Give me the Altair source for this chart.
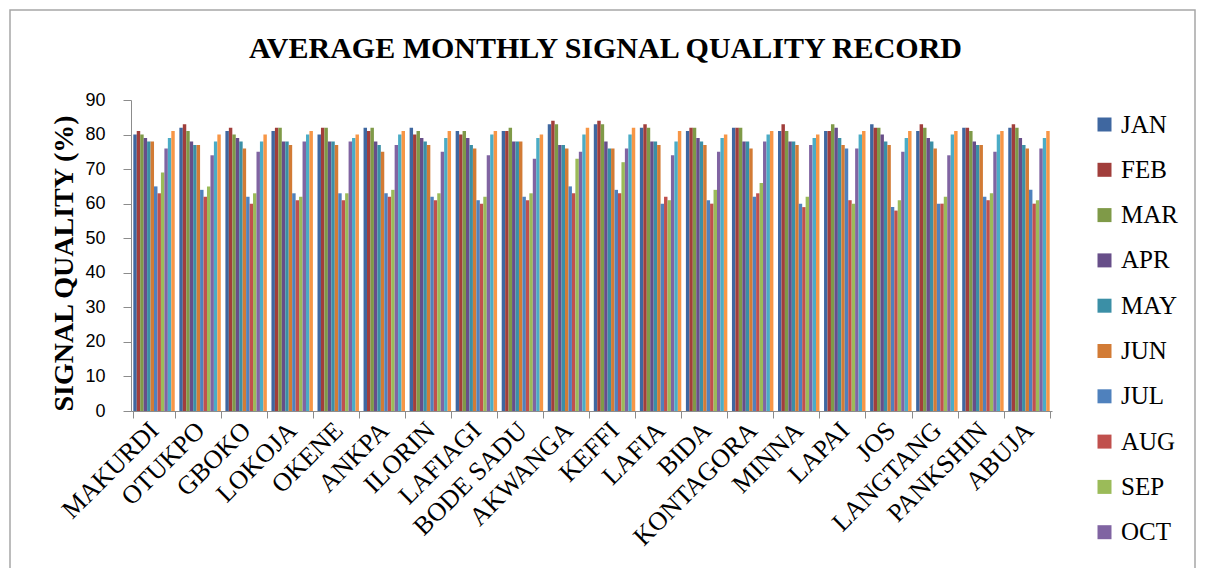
import altair as alt
import pandas as pd

cities = ["MAKURDI", "OTUKPO", "GBOKO", "LOKOJA", "OKENE", "ANKPA", "ILORIN", "LAFIAGI",
          "BODE SADU", "AKWANGA", "KEFFI", "LAFIA", "BIDA", "KONTAGORA", "MINNA", "LAPAI",
          "JOS", "LANGTANG", "PANKSHIN", "ABUJA"]
months = ["JAN", "FEB", "MAR", "APR", "MAY", "JUN", "JUL", "AUG", "SEP", "OCT", "NOV", "DEC"]

MAKURDI   = [80, 81, 80, 79, 78, 78, 65, 63, 69, 76, 79, 81]
OTUKPO    = [82, 83, 81, 78, 77, 77, 64, 62, 65, 74, 78, 80]
GBOKO     = [81, 82, 80, 79, 78, 76, 62, 60, 63, 75, 78, 80]
LOKOJA    = [81, 82, 82, 78, 78, 77, 63, 61, 62, 78, 80, 81]
OKENE     = [80, 82, 82, 78, 78, 77, 63, 61, 63, 78, 79, 80]
ANKPA     = [82, 81, 82, 78, 77, 75, 63, 62, 64, 77, 80, 81]
ILORIN    = [82, 80, 81, 79, 78, 77, 62, 61, 63, 75, 79, 81]
LAFIAGI   = [81, 80, 81, 79, 77, 76, 61, 60, 62, 74, 80, 81]
BODE_SADU = [81, 81, 82, 78, 78, 78, 62, 61, 63, 73, 79, 80]
AKWANGA   = [83, 84, 83, 77, 77, 76, 65, 63, 73, 75, 80, 82]
KEFFI     = [83, 84, 83, 78, 76, 76, 64, 63, 72, 76, 80, 82]
LAFIA     = [82, 83, 82, 78, 78, 77, 60, 62, 61, 74, 78, 81]
BIDA      = [81, 82, 82, 79, 78, 77, 61, 60, 64, 75, 79, 80]
KONTAGORA = [82, 82, 82, 78, 78, 76, 62, 63, 66, 78, 80, 81]
MINNA     = [81, 83, 81, 78, 78, 77, 60, 59, 62, 77, 79, 80]
LAPAI     = [81, 81, 83, 82, 79, 77, 76, 61, 60, 76, 80, 81]
JOS       = [83, 82, 82, 80, 78, 77, 59, 58, 61, 75, 79, 81]
LANGTANG  = [81, 83, 82, 79, 78, 76, 60, 60, 62, 74, 80, 81]
PANKSHIN  = [82, 82, 81, 78, 77, 77, 62, 61, 63, 75, 80, 81]
ABUJA     = [82, 83, 82, 79, 77, 76, 64, 60, 61, 76, 79, 81]

series = [MAKURDI, OTUKPO, GBOKO, LOKOJA, OKENE, ANKPA, ILORIN, LAFIAGI, BODE_SADU,
          AKWANGA, KEFFI, LAFIA, BIDA, KONTAGORA, MINNA, LAPAI, JOS, LANGTANG, PANKSHIN, ABUJA]

colors = ["#3F67A0", "#A13E3B", "#7F9A48", "#674E89", "#3B8FA6", "#D27B35",
          "#4F81BD", "#C0504D", "#9BBB59", "#8064A2", "#4BACC6", "#F79646"]

rows = []
for c, vals in zip(cities, series):
    for m, v in zip(months, vals):
        rows.append({"city": c, "month": m, "value": v})
df = pd.DataFrame(rows)

serif = "Liberation Serif"
sans = "Liberation Sans"

bars = alt.Chart(df).mark_bar().encode(
    x=alt.X("city:N", sort=cities,
            scale=alt.Scale(paddingInner=0.1, paddingOuter=0.05),
            axis=alt.Axis(title=None, labelAngle=-45, labelAlign="right", labelBaseline="middle",
                          labelFont=serif, labelFontSize=26, labelColor="black",
                          labelPadding=8, tickBand="extent", tickSize=7,
                          domainColor="#8c8c8c", tickColor="#8c8c8c", grid=False)),
    xOffset=alt.XOffset("month:N", sort=months, scale=alt.Scale(paddingInner=0, paddingOuter=0)),
    y=alt.Y("value:Q", scale=alt.Scale(domain=[0, 90], nice=False),
            axis=alt.Axis(title="SIGNAL QUALITY (%)", values=list(range(0, 91, 10)),
                          labelFont=sans, labelFontSize=18, labelColor="black", labelPadding=18,
                          tickSize=8, domainColor="#8c8c8c", tickColor="#8c8c8c", grid=False,
                          titleFont=serif, titleFontSize=28, titleFontWeight="bold",
                          titleColor="black", titlePadding=6, titleY=163)),
    color=alt.Color("month:N", sort=months,
                    scale=alt.Scale(domain=months, range=colors),
                    legend=alt.Legend(title=None, values=months[:10], orient="none",
                                      legendX=961, legendY=12, symbolType="square",
                                      symbolSize=196, symbolStrokeWidth=0, labelFont=serif,
                                      labelFontSize=25, labelColor="black", labelOffset=4,
                                      rowPadding=19.3, padding=0)),
)

border_df = pd.DataFrame({"k": [0]})
border = alt.Chart(border_df).mark_rect(fillOpacity=0, stroke="#a6a6a6", strokeWidth=1.5).encode(
    x=alt.value(-121), x2=alt.value(1064), y=alt.value(-90), y2=alt.value(600)
)

chart = alt.layer(bars, border).properties(
    width=921, height=311,
    title=alt.TitleParams("AVERAGE MONTHLY SIGNAL QUALITY RECORD", font=serif, fontSize=30,
                          fontWeight="bold", color="black", anchor="middle", offset=-55, dx=14),
    autosize=alt.AutoSizeParams(type="none"),
    padding={"left": 123, "top": 92, "right": 145, "bottom": 157},
).configure_view(stroke=None)

chart.save("out.html", embed_options={"renderer": "svg", "actions": False})
